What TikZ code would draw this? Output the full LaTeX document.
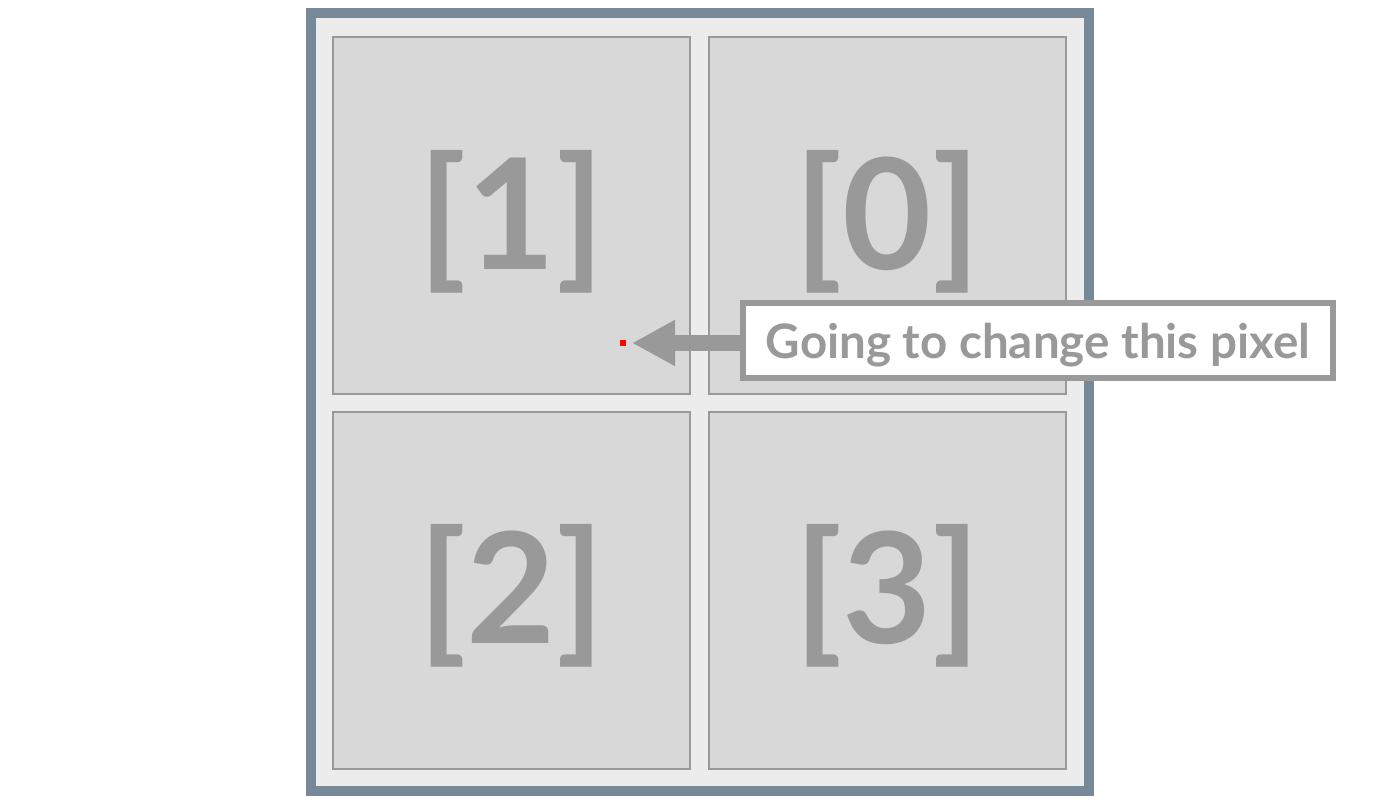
\documentclass[tikz,border=0pt]{standalone}
\usepackage{fontspec}
\setmainfont{Lato}
\usetikzlibrary{arrows.meta}
\definecolor{slate}{HTML}{778899}
\definecolor{framefill}{HTML}{ECECEC}
\definecolor{cellfill}{HTML}{D8D8D8}
\definecolor{midgray}{HTML}{999999}
\newcommand{\lowerby}[2]{\raisebox{-#1}[\height][\depth]{#2}}
\begin{document}
\begin{tikzpicture}[x=1pt,y=-1pt,
  cellbox/.style={draw=midgray, fill=cellfill, line width=2pt, minimum width=357pt, minimum height=357pt, inner sep=0pt,
    font=\fontsize{154}{154}\selectfont\bfseries, text=midgray},
  framebox/.style={draw=slate, fill=framefill, line width=10pt},
  calloutbox/.style={draw=midgray, fill=white, line width=6pt, minimum width=590pt, minimum height=75pt, inner sep=0pt,
    font=\fontsize{47.5}{47.5}\selectfont\bfseries, text=midgray},
  pointer/.style={draw=midgray, line width=16pt, -{Triangle[length=43pt,width=43pt]}},
  pixel/.style={fill=red, minimum size=6pt, inner sep=0pt}
]
\useasboundingbox (0,0) rectangle (1400,800);
\fill[white] (0,0) rectangle (1400,800);
\draw[framebox] (311,13) rectangle (1089,791);
\node[cellbox] (c1) at (511.5,215.5) {\lowerby{6pt}{[1]}};
\node[cellbox] (c0) at (887.5,215.5) {\lowerby{6pt}{[0]}};
\node[cellbox] (c2) at (511.5,590) {\lowerby{6pt}{[2]}};
\node[cellbox] (c3) at (887.5,590) {\lowerby{6pt}{[3]}};
\node[pixel] (px) at (623,343) {};
\coordinate (tip) at (632,343);
\node[calloutbox] (note) at (1038,340.5) {\lowerby{5pt}{Going to change this pixel}};
\draw[pointer] (note.west |- tip) -- (tip);
\end{tikzpicture}
\end{document}
